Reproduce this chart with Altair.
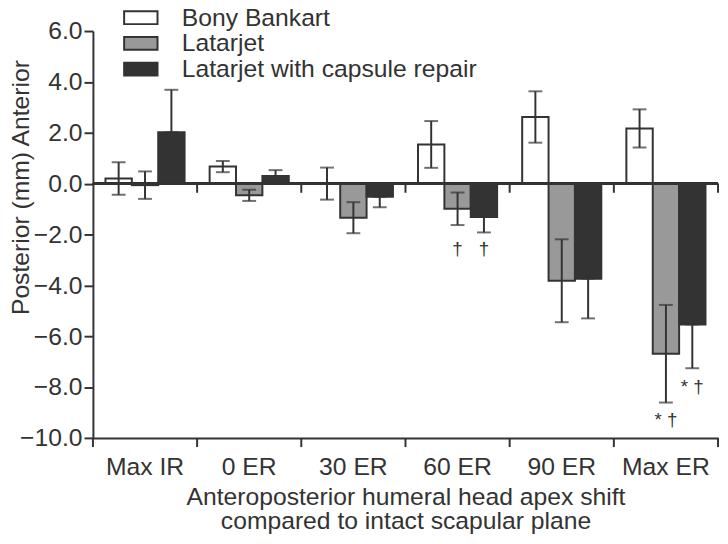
import altair as alt
import pandas as pd

categories = ["Max IR", "0 ER", "30 ER", "60 ER", "90 ER", "Max ER"]
series = ["Bony Bankart", "Latarjet", "Latarjet with capsule repair"]
colors = ["#ffffff", "#999999", "#333333"]

bony = [0.20, 0.67, 0.00, 1.54, 2.62, 2.17]
bony_err = [0.64, 0.22, 0.63, 0.92, 1.01, 0.75]
latarjet = [-0.06, -0.46, -1.34, -0.99, -3.82, -6.69]
latarjet_err = [0.54, 0.22, 0.61, 0.64, 1.63, 1.92]
capsule = [2.02, 0.30, -0.52, -1.31, -3.74, -5.54]
capsule_err = [1.67, 0.23, 0.41, 0.61, 1.56, 1.72]

ann_cat = ["60 ER", "60 ER", "Max ER", "Max ER"]
ann_series = ["Latarjet", "Latarjet with capsule repair", "Latarjet", "Latarjet with capsule repair"]
ann_y = [-2.56, -2.56, -9.3, -8.0]
ann_text = ["†", "†", "* †", "* †"]

FONT = "Liberation Sans"
INK = "#333333"
FS = 25

rows = []
for s, vals, errs in [(series[0], bony, bony_err), (series[1], latarjet, latarjet_err), (series[2], capsule, capsule_err)]:
    for c, v, e in zip(categories, vals, errs):
        if s == series[2]:
            lo, hi = (v, v + e) if v >= 0 else (v - e, v)
        else:
            lo, hi = v - e, v + e
        rows.append({"cat": c, "series": s, "value": v, "lo": lo, "hi": hi})
df = pd.DataFrame(rows)

ann = pd.DataFrame({"cat": ann_cat, "series": ann_series, "y": ann_y, "text": ann_text})

x_scale = alt.Scale(domain=categories, paddingInner=0, paddingOuter=0)
xo_scale = alt.Scale(domain=series, paddingInner=0, paddingOuter=0.475)
y_scale = alt.Scale(domain=[-10, 6], nice=False)

X = alt.X("cat:N", scale=x_scale, sort=categories,
          axis=alt.Axis(ticks=False, domainWidth=2, domainColor=INK, labelAngle=0,
                        labelFontSize=FS, labelColor=INK, labelFont=FONT, labelPadding=17,
                        title=["Anteroposterior humeral head apex shift", "compared to intact scapular plane"],
                        titleFontSize=FS, titleFont=FONT, titleFontWeight="normal", titleColor=INK,
                        titleLineHeight=25, titlePadding=5))
XO = alt.XOffset("series:N", scale=xo_scale, sort=series)
Y = alt.Y("value:Q", scale=y_scale,
          axis=alt.Axis(values=[-10, -8, -6, -4, -2, 0, 2, 4, 6], format=".1f", grid=False,
                        tickSize=9, tickWidth=2, tickColor=INK, domainWidth=2, domainColor=INK,
                        labelFontSize=FS, labelColor=INK, labelFont=FONT, labelPadding=2,
                        title="Posterior (mm) Anterior", titleFontSize=FS, titleFont=FONT,
                        titleFontWeight="normal", titleColor=INK,
                        titleX=-73, titleY=158, titleAngle=270, titleAlign="center",
                        titleBaseline="middle"))

bars = alt.Chart(df).mark_bar(stroke=INK, strokeWidth=2).encode(
    x=X, xOffset=XO, y=Y, y2=alt.datum(0),
    fill=alt.Fill("series:N", scale=alt.Scale(domain=series, range=colors), sort=series,
                  legend=alt.Legend(title=None, orient="none", legendX=36, legendY=-26, padding=0,
                                    symbolType="M-2.6,-1L2.6,-1L2.6,1L-2.6,1Z", symbolSize=169,
                                    symbolStrokeColor=INK, symbolStrokeWidth=2, symbolOpacity=1,
                                    labelFontSize=FS, labelFont=FONT, labelColor=INK, labelOffset=29,
                                    rowPadding=0, labelLimit=400)),
)

err_rule = alt.Chart(df).mark_rule(color=INK, strokeWidth=2).encode(
    x=alt.X("cat:N", sort=categories), xOffset=alt.XOffset("series:N", sort=series),
    y=alt.Y("lo:Q"), y2="hi:Q")
cap_lo = alt.Chart(df).mark_tick(color=INK, thickness=2, size=14, orient="horizontal").encode(
    x=alt.X("cat:N", sort=categories), xOffset=alt.XOffset("series:N", sort=series), y=alt.Y("lo:Q"))
cap_hi = alt.Chart(df).mark_tick(color=INK, thickness=2, size=14, orient="horizontal").encode(
    x=alt.X("cat:N", sort=categories), xOffset=alt.XOffset("series:N", sort=series), y=alt.Y("hi:Q"))

zero_line = alt.Chart(df).mark_rule(color=INK, strokeWidth=2).encode(y=alt.datum(0))

bnd = pd.DataFrame({"cat": categories})
zero_ticks = alt.Chart(bnd).mark_rule(color=INK, strokeWidth=2).encode(
    x=alt.X("cat:N", sort=categories, bandPosition=0), y=alt.datum(0), y2=alt.datum(-0.36)
).transform_filter(alt.datum.cat != categories[0])
end_df = pd.DataFrame({"cat": [categories[-1]]})
zero_tick_end = alt.Chart(end_df).mark_rule(color=INK, strokeWidth=2).encode(
    x=alt.X("cat:N", sort=categories, bandPosition=1), y=alt.datum(0), y2=alt.datum(-0.36))
bot_ticks = alt.Chart(bnd).mark_rule(color=INK, strokeWidth=2).encode(
    x=alt.X("cat:N", sort=categories, bandPosition=0), y=alt.datum(-10), y2=alt.datum(-10.36))
bot_tick_end = alt.Chart(end_df).mark_rule(color=INK, strokeWidth=2).encode(
    x=alt.X("cat:N", sort=categories, bandPosition=1), y=alt.datum(-10), y2=alt.datum(-10.36))

labels = alt.Chart(ann).mark_text(fontSize=19, font=FONT, color=INK, baseline="middle").encode(
    x=alt.X("cat:N", sort=categories), xOffset=alt.XOffset("series:N", sort=series),
    y=alt.Y("y:Q"), text="text:N")

chart = alt.layer(
    bars, zero_line, zero_ticks, zero_tick_end, bot_ticks, bot_tick_end,
    err_rule, cap_lo, cap_hi, labels
).properties(
    width=633, height=412,
    autosize=alt.AutoSizeParams(type="none"),
    padding={"left": 86, "top": 20, "right": 2, "bottom": 96},
    background="white",
).configure_view(stroke=None)

chart.save("out.html", embed_options={"renderer": "svg", "actions": False})
